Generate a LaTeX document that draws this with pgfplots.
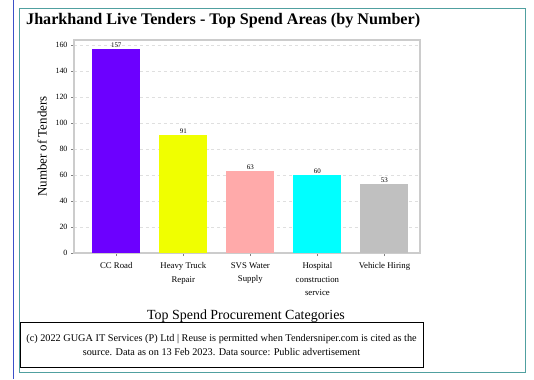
\documentclass[border=0pt]{standalone}
\usepackage{pgfplots}
\pgfplotsset{compat=1.18}
\usepackage{fontspec}
\setmainfont{Liberation Serif}
\definecolor{c1}{RGB}{108,0,255}
\definecolor{c2}{RGB}{240,255,0}
\definecolor{c3}{RGB}{255,170,170}
\definecolor{c4}{RGB}{0,255,255}
\definecolor{c5}{RGB}{192,192,192}
\definecolor{frame}{RGB}{80,160,160}
\definecolor{lblue}{RGB}{60,80,200}
\begin{document}
\begin{tikzpicture}[x=1bp,y=-1bp]
\useasboundingbox (0,0) rectangle (534,379);
\draw[lblue,line width=1bp] (13.5,0) -- (13.5,379);
\draw[frame,line width=1bp] (19.5,8) rectangle (525,372);
\node[anchor=west,font=\fontsize{16.2}{18}\selectfont\bfseries,inner sep=0] at (26,21) {Jharkhand Live Tenders - Top Spend Areas (by Number)};
\begin{axis}[
  at={(74bp,-253bp)}, anchor=south west,
  scale only axis, width=346bp, height=213bp,
  ymin=0, ymax=164, xmin=-0.63, xmax=4.53,
  ytick={0,20,...,160},
  xtick={0,1,2,3,4},
  xticklabels={CC Road,Heavy Truck\\Repair,SVS Water\\Supply,Hospital\\construction\\service,Vehicle Hiring},
  xticklabel style={align=center,font=\fontsize{8.8}{13.5}\selectfont,yshift=-3bp,anchor=north},
  yticklabel style={font=\fontsize{8}{9}\selectfont},
  /pgf/number format/assume math mode=true,
  tick style={gray,thin},
  tick align=outside,
  major tick length=3bp,
  axis line style={draw=gray!40,line width=1.2bp},
  ymajorgrids, grid style={dashed,gray!25},
  xtick pos=bottom, ytick pos=left,
  ylabel={Number of Tenders},
  ylabel style={font=\fontsize{13}{14}\selectfont,yshift=2bp},
  nodes near coords,
  every node near coord/.append style={font=\fontsize{7}{8}\selectfont,yshift=-2bp},
  ybar, bar width=48bp, bar shift=0pt,
  clip=false,
]
\addplot[fill=c1,draw=none] coordinates {(0,157)};
\addplot[fill=c2,draw=none] coordinates {(1,91)};
\addplot[fill=c3,draw=none] coordinates {(2,63)};
\addplot[fill=c4,draw=none] coordinates {(3,60)};
\addplot[fill=c5,draw=none] coordinates {(4,53)};
\end{axis}
\node[font=\fontsize{14}{16}\selectfont,inner sep=0] at (246,316) {Top Spend Procurement Categories};
\draw[black,line width=0.8bp] (20.5,322.5) rectangle (423,367);
\node[align=center,font=\fontsize{10.3}{15}\selectfont,inner sep=0] at (221.5,345) {(c) 2022 GUGA IT Services (P) Ltd | Reuse is permitted when Tendersniper.com is cited as the\\source. Data as on 13 Feb 2023. Data source: Public advertisement};
\end{tikzpicture}
\end{document}
